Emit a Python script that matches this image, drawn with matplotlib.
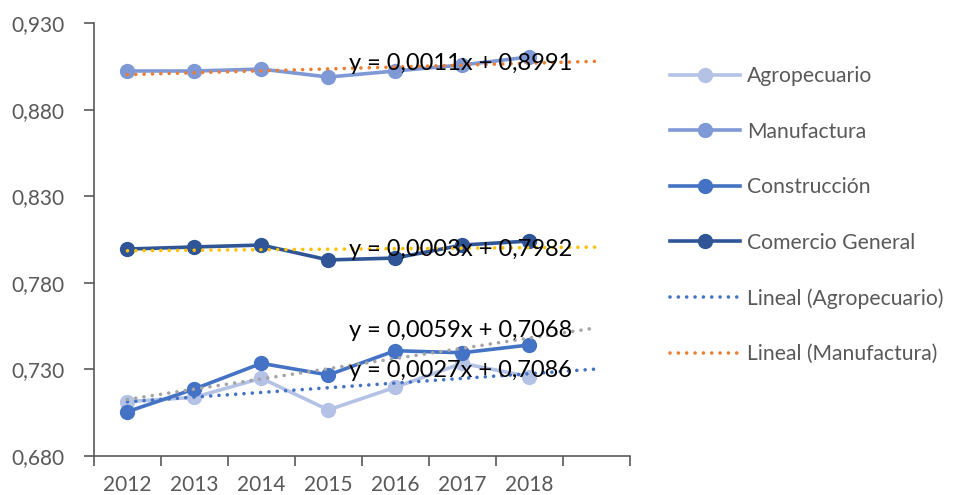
#! /usr/bin/env python
"""
plot.py
"""

import numpy as np
import matplotlib
matplotlib.use('Agg')
import matplotlib.pyplot as plt
from matplotlib.ticker import FuncFormatter, FixedLocator

plt.rcParams['font.family'] = ['Lato', 'DejaVu Sans']

years = ['2012', '2013', '2014', '2015', '2016', '2017', '2018']
agropecuario = [0.7114, 0.7139, 0.7249, 0.7066, 0.7197, 0.7335, 0.7258]
manufactura = [0.9023, 0.9023, 0.9034, 0.8988, 0.9023, 0.9058, 0.9104]
construccion = [0.7056, 0.7187, 0.7335, 0.7268, 0.7408, 0.7396, 0.7441]
comercio = [0.7995, 0.8007, 0.8018, 0.7932, 0.7943, 0.8018, 0.8041]

# trendline coefficients as printed on the chart (slope, intercept)
trend_agro = (0.0027, 0.7086)
trend_manu = (0.0011, 0.8991)
trend_cons = (0.0059, 0.7068)
trend_come = (0.0003, 0.7982)

series = [
    ('Agropecuario', agropecuario, '#B4C2E6'),
    ('Manufactura', manufactura, '#7F98D6'),
    ('Construcción', construccion, '#4472C4'),
    ('Comercio General', comercio, '#2F5597'),
]
trends = [
    ('Lineal (Agropecuario)', trend_agro, '#4472C4', (5.97, 0.7291)),
    ('Lineal (Manufactura)', trend_manu, '#ED7D31', (5.97, 0.9069)),
    ('Lineal (Construcción)', trend_cons, '#A5A5A5', (5.97, 0.7527)),
    ('Lineal (Comercio General)', trend_come, '#FFC000', (5.97, 0.7995)),
]


def fmt(v):
    return ('%.4f' % v).replace('.', ',')


fig = plt.figure(figsize=(9.56, 4.95), dpi=100)
ax = fig.add_axes([0.0983, 0.0788, 0.5603, 0.8747])

x = np.arange(1, len(years) + 1)
handles = []
for name, vals, color in series:
    h, = ax.plot(x, vals, color=color, lw=2.6, marker='o', ms=10,
                 label=name, zorder=3)
    handles.append(h)

# forecast forward one period, like the original
xt = np.array([1, len(years) + 1])
for name, (m, b), color, pos in trends:
    h, = ax.plot(xt, m * xt + b, color=color, lw=2.6, ls=(0, (0.01, 2.3)),
                 dash_capstyle='round', label=name, zorder=4)
    handles.append(h)
    ax.text(pos[0], pos[1], 'y = %sx + %s' % (fmt(m), fmt(b)),
            ha='center', va='center', fontsize=17, color='black',
            zorder=5)

ax.set_xlim(0.5, 8.5)
ax.set_ylim(0.68, 0.93)
ax.set_yticks(np.arange(0.68, 0.931, 0.05))
ax.yaxis.set_major_formatter(FuncFormatter(lambda v, p: ('%.3f' % v).replace('.', ',')))

ax.xaxis.set_major_locator(FixedLocator(np.arange(0.5, 8.6, 1)))
ax.xaxis.set_minor_locator(FixedLocator(x))
ax.set_xticklabels([], minor=False)
ax.set_xticklabels(years, minor=True)

for s in ['top', 'right']:
    ax.spines[s].set_visible(False)
for s in ['left', 'bottom']:
    ax.spines[s].set_color('#595959')
    ax.spines[s].set_linewidth(1.2)

ax.tick_params(axis='y', which='major', length=7, width=1.2, color='#595959',
               labelcolor='#595959', labelsize=15, pad=14)
ax.tick_params(axis='x', which='major', length=7, width=1.2, color='#595959')
ax.tick_params(axis='x', which='minor', length=0, labelcolor='#595959',
               labelsize=15, pad=14)

fig.legend(handles=handles[:6], loc='upper left',
           bbox_to_anchor=(0.701, 0.866), frameon=False, fontsize=15.2,
           labelcolor='#595959', handlelength=3.3, handletextpad=0.35,
           labelspacing=1.68, borderpad=0, borderaxespad=0)

fig.savefig('out.png', dpi=100)
plt.close(fig)
